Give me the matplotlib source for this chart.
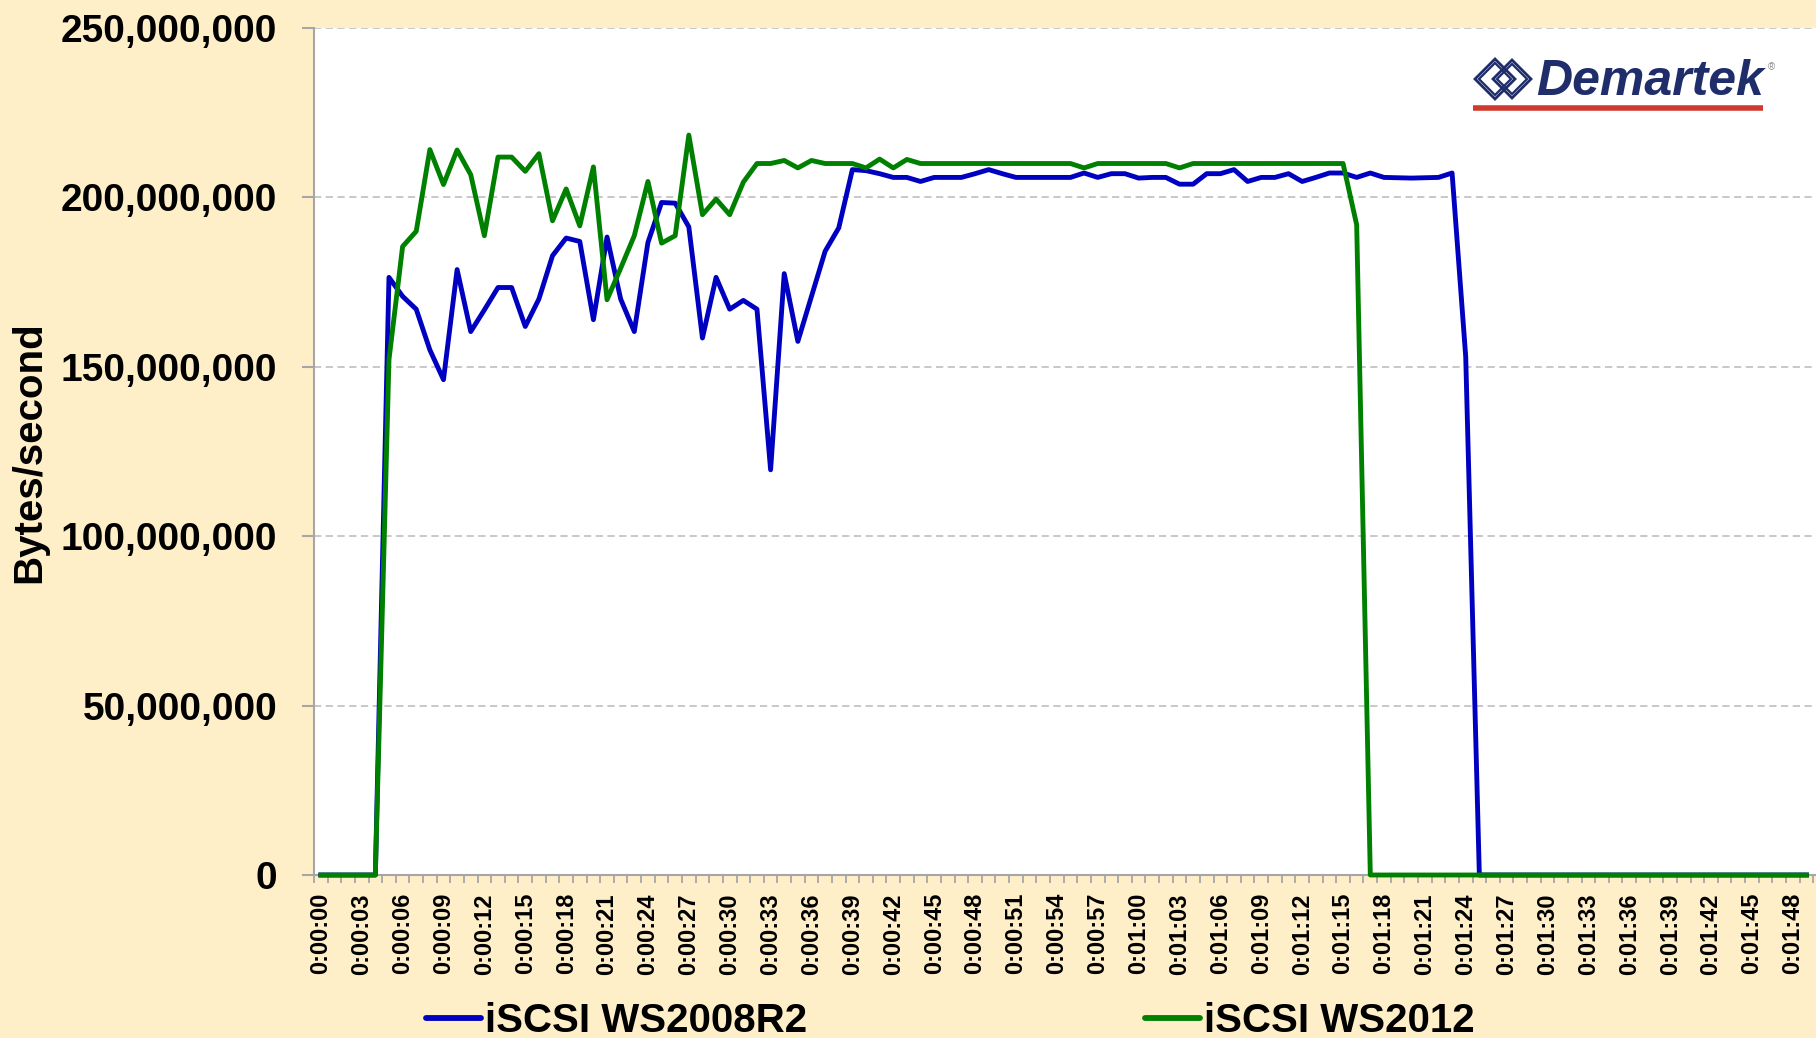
import numpy as np
import matplotlib.pyplot as plt
import matplotlib.patches as mpatches
import matplotlib.lines as mlines
from matplotlib.ticker import FuncFormatter

plt.rcParams['font.family'] = ['Liberation Sans', 'DejaVu Sans']

W, H = 1816, 1038

# one sample per second, values in MB/s
seconds = list(range(110))
ws2008r2_mb = [0, 0, 0, 0, 0,
               176.4, 170.8, 167.0, 155.0, 146.2, 178.7, 160.4, 166.8, 173.4, 173.4,
               161.9, 170.0, 182.8, 188.0, 187.0, 163.9, 188.3, 170.0, 160.4, 186.7,
               198.5, 198.3, 191.3, 158.5, 176.4, 167.0, 169.6, 167.0, 119.6, 177.5,
               157.5, 170.8, 184.1, 191.0, 208.2, 207.9, 207.0, 205.9, 205.9, 204.7,
               205.9, 205.9, 205.9, 207.0, 208.2, 207.0, 205.9, 205.9, 205.9, 205.9,
               205.9, 207.2, 205.9, 207.0, 207.0, 205.7, 205.9, 205.9, 203.9, 203.9,
               207.0, 207.0, 208.2, 204.7, 205.9, 205.9, 207.0, 204.7, 205.9, 207.2,
               207.2, 205.9, 207.2, 205.9, 205.8, 205.7, 205.8, 205.9, 207.2, 153.0] + [0] * 25
ws2012_mb = [0, 0, 0, 0, 0,
             152.1, 185.5, 190.0, 214.1, 203.8, 214.0, 206.7, 188.7, 211.9, 211.9,
             207.7, 212.9, 193.1, 202.5, 191.6, 209.0, 169.8, 179.1, 188.7, 204.7,
             186.5, 188.7, 218.4, 194.9, 199.5, 194.9, 204.5, 210.0, 210.0, 210.9,
             208.7, 210.9, 210.0, 210.0, 210.0, 208.7, 211.3, 208.7, 211.2, 210.0,
             210.0, 210.0, 210.0, 210.0, 210.0, 210.0, 210.0, 210.0, 210.0, 210.0,
             210.0, 208.7, 210.0, 210.0, 210.0, 210.0, 210.0, 210.0, 208.7, 210.0,
             210.0, 210.0, 210.0, 210.0, 210.0, 210.0, 210.0, 210.0, 210.0, 210.0,
             210.0, 191.9] + [0] * 33

series_names = ["iSCSI WS2008R2", "iSCSI WS2012"]
series_colors = ["#0000C0", "#008000"]

tick_seconds = list(range(0, 109, 3))
tick_labels = ["%d:%02d:%02d" % (s // 3600, s // 60 % 60, s % 60) for s in tick_seconds]
y_ticks = [0, 50e6, 100e6, 150e6, 200e6, 250e6]

bg = "#FFEFC9"
axis_gray = "#A6A6A6"
navy = "#1F2D6B"


def px(x, y):
    return x / W, 1 - y / H


def draw_logo(fig):
    for cx, r in ((1495, 20), (1512, 19)):
        for rr, lw in ((r, 2.0), (r - 4, 1.6)):
            pts = [px(cx - rr, 79), px(cx, 79 - rr), px(cx + rr, 79), px(cx, 79 + rr)]
            fig.add_artist(mpatches.Polygon(pts, closed=True, fill=False, edgecolor=navy,
                                            lw=lw, transform=fig.transFigure))
    x, y = px(1536, 95)
    fig.text(x, y, "Demartek", fontsize=36, fontweight='bold', style='italic',
             color=navy, va='baseline', ha='left')
    x, y = px(1768, 70)
    fig.text(x, y, "\u00ae", fontsize=7, color='#888888', va='baseline')
    x0, y0 = px(1473, 108)
    x1, _ = px(1763, 108)
    fig.add_artist(mlines.Line2D([x0, x1], [y0, y0], color='#D03A2E', lw=4,
                                 solid_capstyle='butt', transform=fig.transFigure))


fig = plt.figure(figsize=(W / 100, H / 100), dpi=100, facecolor=bg)
ax = fig.add_axes([314 / W, 1 - 875 / H, (W - 314) / W, (875 - 28) / H])
ax.set_facecolor('white')

x = np.array(seconds)
handles = []
for vals, name, col in zip([ws2008r2_mb, ws2012_mb], series_names, series_colors):
    ax.plot(x, np.array(vals) * 1e6, color=col, lw=3.5, solid_joinstyle='round',
            clip_on=False, zorder=4)
    handles.append(mlines.Line2D([], [], color=col, lw=4.2, solid_capstyle='round'))

ax.set_xlim(-0.5, 109.7)
ax.set_ylim(0, 250e6)

ax.set_yticks(y_ticks)
ax.yaxis.set_major_formatter(FuncFormatter(lambda v, p: "{:,.0f}".format(v)))
ax.yaxis.grid(True, linestyle=(0, (4, 2.5)), color='#C4C4C4', lw=1.3)
ax.set_axisbelow(True)

ax.set_xticks(tick_seconds)
ax.set_xticklabels(tick_labels, rotation=90, fontsize=17, fontweight='bold')
ax.set_xticks(np.arange(-0.5, 110, 1), minor=True)
ax.tick_params(axis='x', which='major', length=0, pad=13)
ax.tick_params(axis='x', which='minor', length=5.8, width=1.3, color=axis_gray, direction='out')
ax.tick_params(axis='y', which='major', length=8.4, width=1.5, color=axis_gray,
               direction='out', pad=18, labelsize=28)
for lab in ax.get_yticklabels():
    lab.set_fontweight('bold')

for s in ['top', 'right']:
    ax.spines[s].set_visible(False)
for s in ['left', 'bottom']:
    ax.spines[s].set_color(axis_gray)
    ax.spines[s].set_linewidth(1.5)

ax.set_ylabel("Bytes/second", fontsize=29, fontweight='bold')
ax.yaxis.set_label_coords(29 / W, 1 - 452 / H, transform=fig.transFigure)
ax.yaxis.label.set_va('center')

fig.legend(handles, series_names, loc='center left', bbox_to_anchor=px(426, 1021),
           ncol=2, frameon=False, handlelength=1.36, handletextpad=0.1,
           columnspacing=8.4, borderpad=0, borderaxespad=0,
           prop={'size': 29, 'weight': 'bold'})

draw_logo(fig)

plt.savefig("out.png", dpi=100, facecolor=bg)
